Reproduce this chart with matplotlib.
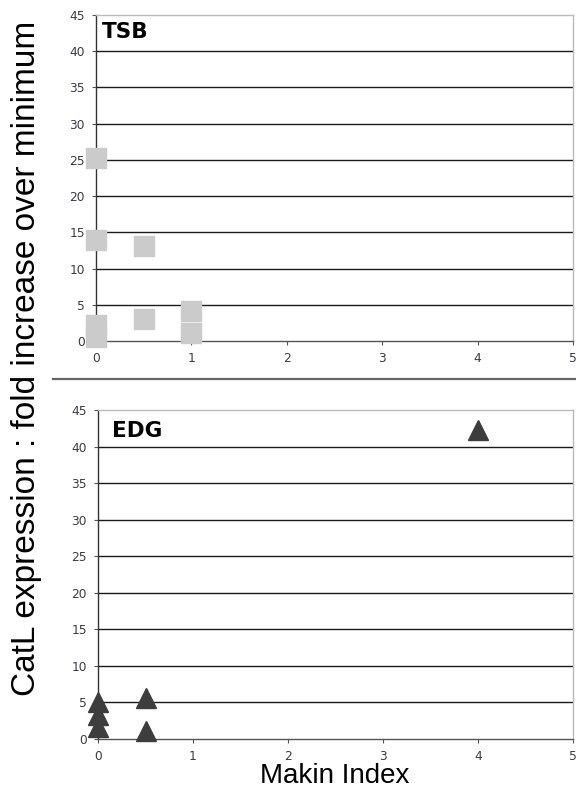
import matplotlib
matplotlib.use('Agg')
import matplotlib.pyplot as plt
from matplotlib.lines import Line2D

# TSB panel (grey squares)
tsb_x = [0, 0, 0, 0, 0.5, 0.5, 1, 1]
tsb_y = [25.2, 13.9, 2.2, 0.6, 13.1, 3.0, 4.2, 1.1]

# EDG panel (dark triangles)
edg_x = [0, 0, 0, 0.5, 0.5, 4]
edg_y = [5.0, 3.3, 1.6, 5.6, 1.1, 42.3]

y_ticks = list(range(0, 50, 5))
x_ticks = [0, 1, 2, 3, 4, 5]
W, H = 576, 797


def style_axis(ax):
	ax.set_xlim(0, 5)
	ax.set_ylim(0, 45)
	ax.set_xticks(x_ticks)
	ax.set_yticks(y_ticks)
	for y in y_ticks[1:-1]:
		ax.axhline(y, color='#1a1a1a', lw=1.0, zorder=1)
	ax.spines['top'].set_color('#bbbbbb')
	ax.spines['right'].set_color('#bbbbbb')
	ax.spines['left'].set_color('#333333')
	ax.spines['bottom'].set_color('#555555')
	for s in ax.spines.values():
		s.set_linewidth(1.0)
	ax.tick_params(axis='both', direction='out', length=3, width=0.8,
		colors='#555555', labelcolor='#3a3a4a', labelsize=8.8)
	ax.tick_params(axis='x', pad=5)
	ax.tick_params(axis='y', pad=5)


fig = plt.figure(figsize=(W / 100, H / 100), dpi=100)

ax1 = fig.add_axes([96 / W, 1 - 341 / H, 477 / W, 326 / H])
style_axis(ax1)
ax1.plot(tsb_x, tsb_y, ls='none', marker='s', ms=14, color='#cbcbcb',
	mec='#cbcbcb', clip_on=False, zorder=3)

ax2 = fig.add_axes([98 / W, 1 - 739 / H, 475 / W, 329 / H])
style_axis(ax2)
ax2.plot(edg_x, edg_y, ls='none', marker='^', ms=14, color='#3d3d3d',
	mec='#3d3d3d', clip_on=False, zorder=3)

fig.text(102 / W, 1 - 38 / H, 'TSB', fontsize=15.5, fontweight='heavy',
	family='DejaVu Sans', va='baseline')
fig.text(112 / W, 1 - 437 / H, 'EDG', fontsize=15.5, fontweight='heavy',
	family='DejaVu Sans', va='baseline')

fig.add_artist(Line2D([53 / W, 1], [1 - 379 / H, 1 - 379 / H],
	color='#666666', lw=1.6, transform=fig.transFigure))

fig.text(27 / W, 1 - 358 / H, 'CatL expression : fold increase over minimum',
	rotation=90, ha='center', va='center', fontsize=24, family='Liberation Sans')
fig.text(335 / W, 1 - 783 / H, 'Makin Index', ha='center', va='baseline',
	fontsize=20, family='Liberation Sans')

fig.savefig('out.png', dpi=100)
